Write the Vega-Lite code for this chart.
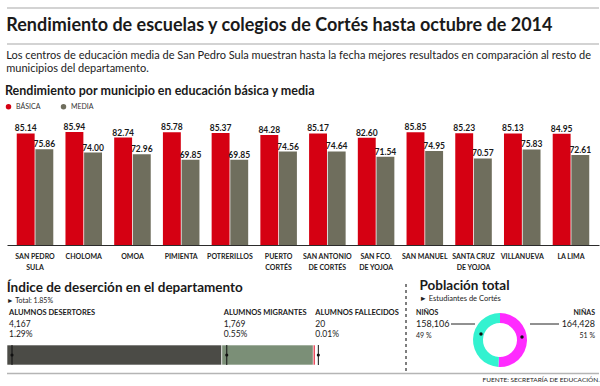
{
  "$schema": "https://vega.github.io/schema/vega-lite/v6.json",
  "background": "#ffffff",
  "padding": {"left": 5, "right": 3, "top": 7, "bottom": 0},
  "bounds": "flush",
  "spacing": 76,
  "resolve": {"scale": {"color": "independent", "x": "independent", "y": "independent"}, "legend": {"color": "independent"}},
  "config": {
    "view": {"stroke": null},
    "font": "Lato",
    "title": {"color": "#1a1a1a", "font": "Lato", "fontWeight": "bold", "anchor": "start", "subtitleFont": "Lato", "subtitleColor": "#222222"},
    "axis": {"labelFont": "Lato"},
    "legend": {"labelFont": "Lato"},
    "text": {"font": "Lato"}
  },
  "vconcat": [
    {
      "width": 592,
      "height": 36,
      "data": {"values": [{"linea": "superior"}, {"linea": "inferior"}]},
      "title": {
        "text": "Rendimiento de escuelas y colegios de Cortés hasta octubre de 2014",
        "orient": "bottom",
        "offset": -28,
        "fontSize": 18,
        "subtitle": ["Los centros de educación media de San Pedro Sula muestran hasta la fecha mejores resultados en comparación al resto de", "municipios del departamento."],
        "subtitleFontSize": 11,
        "subtitlePadding": 15,
        "subtitleLineHeight": 13,
        "subtitleFontWeight": "normal"
      },
      "mark": {"type": "rule", "color": "#c4c4c4", "strokeWidth": 1.5},
      "encoding": {"y": {"field": "linea", "type": "nominal", "sort": null, "scale": {"type": "point", "padding": 0}, "axis": null}}
    },
    {
      "bounds": "flush",
      "spacing": 62,
      "resolve": {"scale": {"color": "independent", "x": "independent", "y": "independent"}, "legend": {"color": "independent"}},
      "vconcat": [
        {
          "width": 592,
          "height": 125,
          "title": {"text": "Rendimiento por municipio en educación básica y media", "fontSize": 12.5, "offset": 6},
          "data": {"values": [
            {"municipio": "SAN PEDRO|SULA", "tipo": "BÁSICA", "valor": 85.14},
            {"municipio": "SAN PEDRO|SULA", "tipo": "MEDIA", "valor": 75.86},
            {"municipio": "CHOLOMA", "tipo": "BÁSICA", "valor": 85.94},
            {"municipio": "CHOLOMA", "tipo": "MEDIA", "valor": 74.00},
            {"municipio": "OMOA", "tipo": "BÁSICA", "valor": 82.74},
            {"municipio": "OMOA", "tipo": "MEDIA", "valor": 72.96},
            {"municipio": "PIMIENTA", "tipo": "BÁSICA", "valor": 85.78},
            {"municipio": "PIMIENTA", "tipo": "MEDIA", "valor": 69.85},
            {"municipio": "POTRERILLOS", "tipo": "BÁSICA", "valor": 85.37},
            {"municipio": "POTRERILLOS", "tipo": "MEDIA", "valor": 69.85},
            {"municipio": "PUERTO|CORTÉS", "tipo": "BÁSICA", "valor": 84.28},
            {"municipio": "PUERTO|CORTÉS", "tipo": "MEDIA", "valor": 74.56},
            {"municipio": "SAN ANTONIO|DE CORTÉS", "tipo": "BÁSICA", "valor": 85.17},
            {"municipio": "SAN ANTONIO|DE CORTÉS", "tipo": "MEDIA", "valor": 74.64},
            {"municipio": "SAN FCO.|DE YOJOA", "tipo": "BÁSICA", "valor": 82.60},
            {"municipio": "SAN FCO.|DE YOJOA", "tipo": "MEDIA", "valor": 71.54},
            {"municipio": "SAN MANUEL", "tipo": "BÁSICA", "valor": 85.85},
            {"municipio": "SAN MANUEL", "tipo": "MEDIA", "valor": 74.95},
            {"municipio": "SANTA CRUZ|DE YOJOA", "tipo": "BÁSICA", "valor": 85.23},
            {"municipio": "SANTA CRUZ|DE YOJOA", "tipo": "MEDIA", "valor": 70.57},
            {"municipio": "VILLANUEVA", "tipo": "BÁSICA", "valor": 85.13},
            {"municipio": "VILLANUEVA", "tipo": "MEDIA", "valor": 75.83},
            {"municipio": "LA LIMA", "tipo": "BÁSICA", "valor": 84.95},
            {"municipio": "LA LIMA", "tipo": "MEDIA", "valor": 72.61}
          ]},
          "encoding": {
            "x": {"field": "municipio", "type": "nominal", "sort": null,
              "scale": {"paddingInner": 0.25, "paddingOuter": 0.2},
              "axis": {"title": null, "labelAngle": 0, "labelExpr": "split(datum.label, '|')", "ticks": false, "domainColor": "#2b2b2b", "domainWidth": 1, "labelFontSize": 7, "labelFontWeight": "bold", "labelColor": "#222222", "labelPadding": 7, "labelLineHeight": 11, "labelLimit": 60}},
            "xOffset": {"field": "tipo", "type": "nominal", "sort": ["BÁSICA", "MEDIA"], "scale": {"paddingInner": 0.04}},
            "y": {"field": "valor", "type": "quantitative", "scale": {"domain": [20, 93], "zero": false, "clamp": true}, "axis": null}
          },
          "layer": [
            {
              "mark": {"type": "bar"},
              "encoding": {
                "color": {"field": "tipo", "type": "nominal", "sort": ["BÁSICA", "MEDIA"],
                  "scale": {"domain": ["BÁSICA", "MEDIA"], "range": ["#d50012", "#6f6e5d"]},
                  "legend": {"title": null, "orient": "none", "legendX": -2, "legendY": -17, "direction": "horizontal", "symbolType": "circle", "symbolSize": 30, "labelFontSize": 7, "labelColor": "#333333", "columnPadding": 19, "symbolStrokeWidth": 0}}
              }
            },
            {
              "mark": {"type": "text", "baseline": "alphabetic", "dy": -2, "fontSize": 8.5, "fontWeight": "bold", "color": "#1a1a1a"},
              "encoding": {"text": {"field": "valor", "type": "quantitative", "format": ".2f"}}
            }
          ]
        },
        {
          "bounds": "flush",
          "spacing": 66,
          "resolve": {"scale": {"color": "independent", "x": "independent", "y": "independent"}, "legend": {"color": "independent"}},
          "vconcat": [
            {
              "bounds": "flush",
              "spacing": 91,
              "resolve": {"scale": {"color": "independent", "x": "independent", "y": "independent"}, "legend": {"color": "independent"}},
              "hconcat": [
                {
                  "width": 308,
                  "height": 58,
                  "title": {"text": "Índice de deserción en el departamento", "subtitle": "► Total: 1.85%", "fontSize": 13.5, "subtitleFontSize": 7, "subtitlePadding": 3, "offset": 3},
                  "data": {"values": [
                    {"tipo": "ALUMNOS DESERTORES", "alumnos": 4167, "pct": 0.0129},
                    {"tipo": "ALUMNOS MIGRANTES", "alumnos": 1769, "pct": 0.0055},
                    {"tipo": "ALUMNOS FALLECIDOS", "alumnos": 20, "pct": 0.0001}
                  ]},
                  "transform": [{"stack": "pct", "groupby": [], "as": ["ini", "fin"]}],
                  "encoding": {
                    "x": {"field": "ini", "type": "quantitative", "scale": {"domain": [0, 0.0185], "nice": false}, "axis": null}
                  },
                  "layer": [
                    {
                      "mark": {"type": "bar", "height": 20, "yOffset": 19, "stroke": "#ffffff", "strokeWidth": 0.6},
                      "encoding": {
                        "x2": {"field": "fin"},
                        "y": {"datum": "Total", "type": "nominal", "scale": {"paddingInner": 0, "paddingOuter": 0}, "axis": null},
                        "color": {"field": "tipo", "type": "nominal", "scale": {"domain": ["ALUMNOS DESERTORES", "ALUMNOS MIGRANTES", "ALUMNOS FALLECIDOS"], "range": ["#4b4b46", "#7b8f77", "#e3001b"]}, "legend": null}
                      }
                    },
                    {
                      "mark": {"type": "rule", "color": "#111111", "strokeWidth": 1, "xOffset": 5, "yOffset": 38, "y2Offset": -10},
                      "encoding": {}
                    },
                    {
                      "mark": {"type": "circle", "color": "#111111", "size": 10, "opacity": 1, "xOffset": 5, "yOffset": 19},
                      "encoding": {}
                    },
                    {
                      "mark": {"type": "text", "align": "left", "baseline": "alphabetic", "dx": 2, "dy": -21, "fontSize": 7.5, "fontWeight": "bold", "color": "#1a1a1a"},
                      "encoding": {"text": {"field": "tipo"}}
                    },
                    {
                      "mark": {"type": "text", "align": "left", "baseline": "alphabetic", "dx": 2, "dy": -9, "fontSize": 8.5, "color": "#1a1a1a"},
                      "encoding": {"text": {"field": "alumnos", "type": "quantitative", "format": ","}}
                    },
                    {
                      "mark": {"type": "text", "align": "left", "baseline": "alphabetic", "dx": 2, "dy": 1, "fontSize": 8.5, "color": "#1a1a1a"},
                      "encoding": {"text": {"field": "pct", "type": "quantitative", "format": ".2%"}}
                    }
                  ]
                },
                {
                  "width": 188,
                  "height": 66,
                  "title": {"text": "Población total", "subtitle": "► Estudiantes de Cortés", "fontSize": 13.5, "subtitleFontSize": 7.5, "subtitlePadding": 3, "offset": -19, "dx": 14},
                  "data": {"values": [
                    {"genero": "NIÑAS", "estudiantes": 164428, "porcentaje": "51 %"},
                    {"genero": "NIÑOS", "estudiantes": 158106, "porcentaje": "49 %"}
                  ]},
                  "layer": [
                    {
                      "mark": {"type": "rule", "color": "#555555", "strokeDash": [3, 3], "strokeWidth": 1, "yOffset": -23, "y2Offset": -2},
                      "encoding": {"x": {"datum": "NIÑOS", "type": "nominal", "scale": {"type": "point", "domain": ["NIÑOS", "NIÑAS"], "padding": 0}, "axis": null}}
                    },
                    {
                      "mark": {"type": "arc", "innerRadius": 17, "outerRadius": 27},
                      "encoding": {
                        "theta": {"field": "estudiantes", "type": "quantitative", "stack": true},
                        "color": {"field": "genero", "type": "nominal", "scale": {"domain": ["NIÑAS", "NIÑOS"], "range": ["#ff2bff", "#33f2d0"]}, "legend": null}
                      }
                    },
                    {
                      "transform": [{"filter": "datum.genero == 'NIÑOS'"}],
                      "encoding": {"x": {"field": "genero", "type": "nominal", "scale": {"type": "point", "domain": ["NIÑOS", "NIÑAS"], "padding": 0}, "axis": null}},
                      "layer": [
                        {"mark": {"type": "rule", "color": "#222222", "strokeWidth": 1, "xOffset": 45, "x2Offset": 69, "yOffset": -16}, "encoding": {"x2": {"field": "genero"}}},
                        {"mark": {"type": "circle", "color": "#111111", "size": 12, "opacity": 1, "xOffset": 75, "yOffset": -6}, "encoding": {}},
                        {"mark": {"type": "text", "align": "left", "baseline": "alphabetic", "dx": 10, "dy": -25, "fontSize": 7, "fontWeight": "bold", "color": "#1a1a1a"}, "encoding": {"text": {"field": "genero"}}},
                        {"mark": {"type": "text", "align": "left", "baseline": "alphabetic", "dx": 10, "dy": -13, "fontSize": 9, "color": "#1a1a1a"}, "encoding": {"text": {"field": "estudiantes", "type": "quantitative", "format": ","}}},
                        {"mark": {"type": "text", "align": "left", "baseline": "alphabetic", "dx": 10, "dy": -2, "fontSize": 7, "color": "#1a1a1a"}, "encoding": {"text": {"field": "porcentaje"}}}
                      ]
                    },
                    {
                      "transform": [{"filter": "datum.genero == 'NIÑAS'"}],
                      "encoding": {"x": {"field": "genero", "type": "nominal", "scale": {"type": "point", "domain": ["NIÑOS", "NIÑAS"], "padding": 0}, "axis": null}},
                      "layer": [
                        {"mark": {"type": "rule", "color": "#222222", "strokeWidth": 1, "xOffset": -35, "x2Offset": -64, "yOffset": -16}, "encoding": {"x2": {"field": "genero"}}},
                        {"mark": {"type": "circle", "color": "#111111", "size": 12, "opacity": 1, "xOffset": -72, "yOffset": -3}, "encoding": {}},
                        {"mark": {"type": "text", "align": "right", "baseline": "alphabetic", "dx": 1, "dy": -25, "fontSize": 7, "fontWeight": "bold", "color": "#1a1a1a"}, "encoding": {"text": {"field": "genero"}}},
                        {"mark": {"type": "text", "align": "right", "baseline": "alphabetic", "dx": 1, "dy": -13, "fontSize": 9, "color": "#1a1a1a"}, "encoding": {"text": {"field": "estudiantes", "type": "quantitative", "format": ","}}},
                        {"mark": {"type": "text", "align": "right", "baseline": "alphabetic", "dx": 1, "dy": -2, "fontSize": 7, "color": "#1a1a1a"}, "encoding": {"text": {"field": "porcentaje"}}}
                      ]
                    }
                  ]
                }
              ]
            },
            {
              "width": 592,
              "height": 1,
              "data": {"values": [{"linea": "pie"}]},
              "title": {"text": "FUENTE: SECRETARÍA DE EDUCACIÓN.", "orient": "bottom", "anchor": "end", "fontSize": 6.5, "fontWeight": "normal", "offset": 3, "color": "#222222"},
              "mark": {"type": "rule", "color": "#b5b5b5", "strokeWidth": 1.5},
              "encoding": {"y": {"field": "linea", "type": "nominal", "axis": null}}
            }
          ]
        }
      ]
    }
  ]
}
